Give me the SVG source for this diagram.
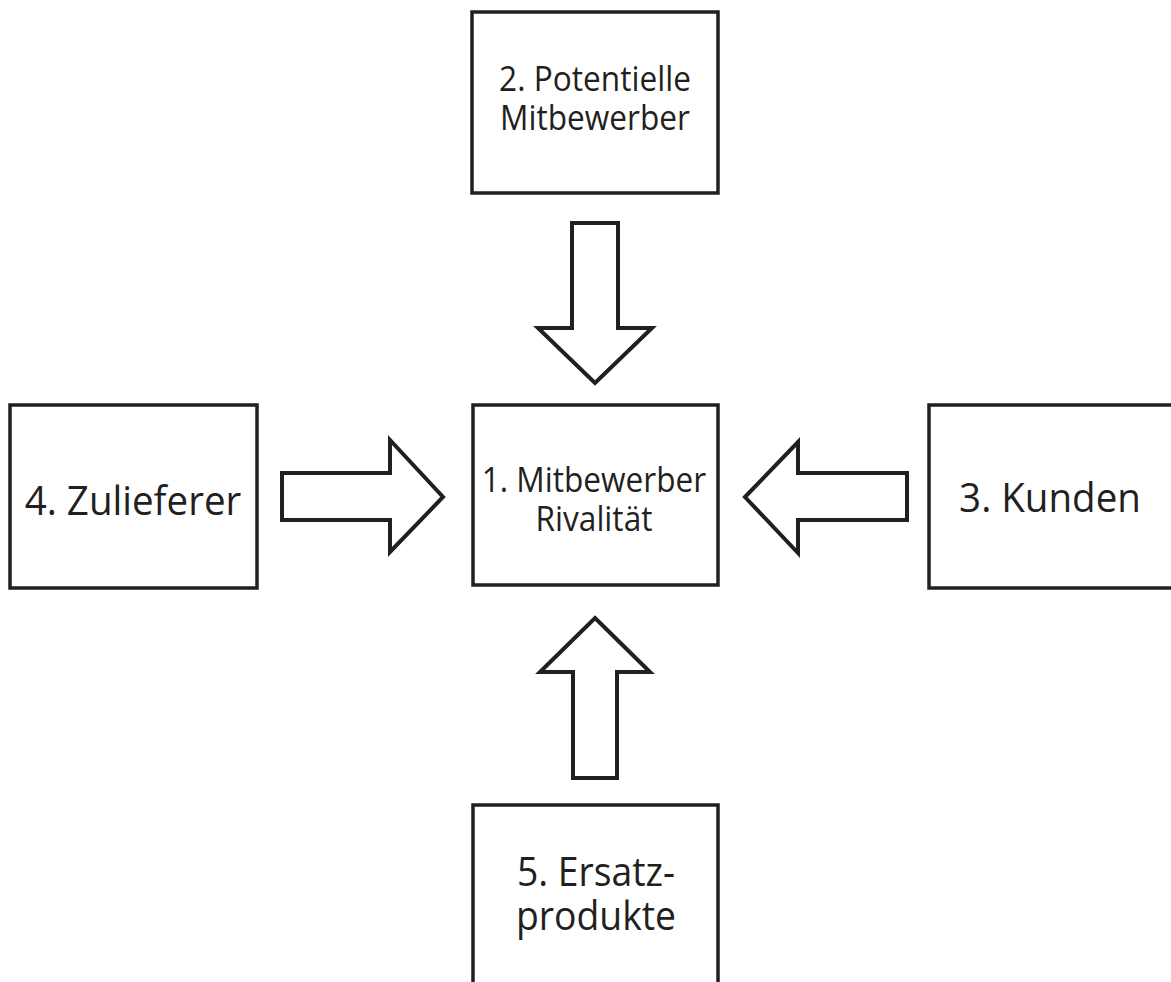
<svg xmlns="http://www.w3.org/2000/svg" width="1171" height="982" viewBox="0 0 1171 982">
<style>
.box{fill:#fff;stroke:#231f20;stroke-width:3.5}
.arr{fill:#fff;stroke:#231f20;stroke-width:4;stroke-linejoin:miter}
.t{font-family:"Open Sans","Noto Sans",sans-serif;fill:#231f20;text-anchor:middle}
.s{font-size:34px}
.l{font-size:41px}
</style>
<rect width="1171" height="982" fill="#fff"/>
<g id="node-2">
<rect class="box" x="472" y="12" width="246" height="181"/>
<text class="t s" transform="translate(595,91) scale(0.93,1)"><tspan x="0" y="0">2. Potentielle</tspan><tspan x="0" y="39">Mitbewerber</tspan></text>
</g>
<g id="node-1">
<rect class="box" x="473" y="405" width="245" height="180"/>
<text class="t s" transform="translate(594,492) scale(0.93,1)"><tspan x="0" y="0">1. Mitbewerber</tspan><tspan x="0" y="39">Rivalität</tspan></text>
</g>
<g id="node-4">
<rect class="box" x="10" y="405" width="247" height="183"/>
<text class="t l" transform="translate(133,515) scale(0.94,1)">4. Zulieferer</text>
</g>
<g id="node-3">
<rect class="box" x="929" y="405" width="260" height="183"/>
<text class="t l" transform="translate(1050,512) scale(0.94,1)">3. Kunden</text>
</g>
<g id="node-5">
<rect class="box" x="473" y="805" width="245" height="200"/>
<text class="t l" transform="translate(596,886) scale(0.91,1)"><tspan x="0" y="0">5. Ersatz-</tspan><tspan x="0" y="44">produkte</tspan></text>
</g>
<g id="connectors">
<polygon class="arr" points="572,223 618,223 618,328 652,328 595,383 538,328 572,328"/>
<polygon class="arr" points="595,618 650,672 617,672 617,778 573,778 573,672 540,672"/>
<polygon class="arr" points="282,473 390,473 390,440 443,497 390,552 390,520 282,520"/>
<polygon class="arr" points="745,497 798,442 798,473 907,473 907,520 798,520 798,553"/>
</g>
</svg>
